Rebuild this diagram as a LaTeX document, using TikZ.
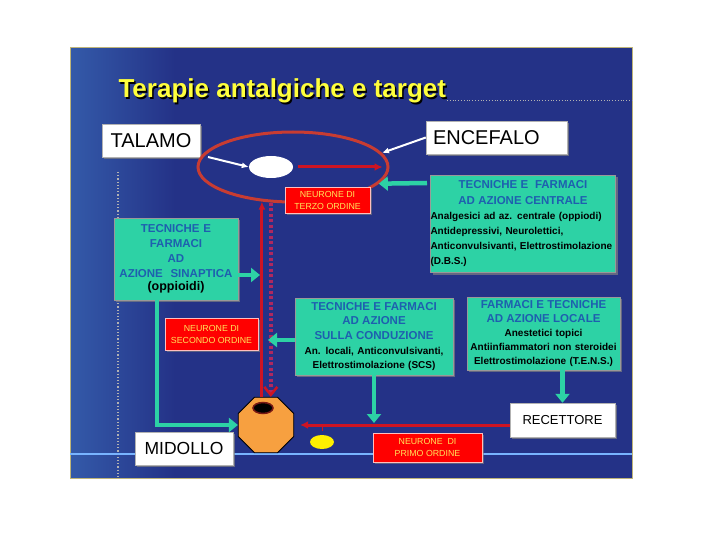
\documentclass[tikz,border=0pt]{standalone}
\usepackage{fontspec}
\setmainfont{Liberation Sans}
\usepackage{xcolor}
\usepackage{tikz}
\usetikzlibrary{arrows.meta, shapes.geometric, shadows}

\definecolor{slideblue}{RGB}{36,50,135}
\definecolor{streak}{RGB}{75,150,220}
\definecolor{tealfill}{RGB}{45,210,165}
\definecolor{headblue}{RGB}{30,95,175}
\definecolor{nervered}{RGB}{205,20,35}
\definecolor{ringred}{RGB}{200,60,50}
\definecolor{dotred}{RGB}{175,40,95}
\definecolor{pinkedge}{RGB}{255,190,190}
\definecolor{labelyellow}{RGB}{255,228,90}
\definecolor{titleyellow}{RGB}{255,255,60}
\definecolor{cellorange}{RGB}{247,160,64}
\definecolor{frametan}{RGB}{190,180,120}
\definecolor{lineblue}{RGB}{120,180,255}

\newcommand{\headtxt}[1]{{\color{headblue}\fontsize{11.5}{15}\selectfont #1}}

\begin{document}
\begin{tikzpicture}[x=1pt, y=-1pt, >=Latex, font=\bfseries]
	\tikzstyle{whitebox} = [fill=white, draw=black!30, minimum height=33, inner sep=0pt, drop shadow={shadow xshift=2pt, shadow yshift=-2pt, opacity=0.7}, font={\fontsize{20}{24}\selectfont\mdseries}]
	\tikzstyle{redbox} = [fill=red, draw=pinkedge, line width=0.6pt, inner sep=0pt, align=center, text=labelyellow, drop shadow={shadow xshift=1.5pt, shadow yshift=-1.5pt, opacity=0.6}, font={\fontsize{8.8}{12}\selectfont\mdseries}]
	\tikzstyle{tealbox} = [fill=tealfill, draw=black!40, inner sep=0pt, drop shadow={shadow xshift=2pt, shadow yshift=-2pt, opacity=0.7}, font={\fontsize{10}{14.5}\selectfont\bfseries}]
	\tikzstyle{tealarrow} = [draw=tealfill, line width=4.5pt, -{Triangle[length=9pt, width=14pt]}]
	\tikzstyle{redarrow} = [draw=nervered, line width=3pt, -{Latex[length=8pt, width=8pt]}]
	\tikzstyle{whitearrow} = [draw=white, line width=2pt, -{Latex[length=7pt, width=6pt]}]

	% slide background
	\useasboundingbox (0, 0) rectangle (720, 540);
	\fill[white] (0, 0) rectangle (720, 540);
	\fill[slideblue] (70, 48) rectangle (632, 478);
	\shade[left color=slideblue!60!streak, middle color=streak!85!slideblue, right color=slideblue] (70, 48) rectangle (175, 478);
	\draw[frametan, line width=1pt] (70, 48) rectangle (632, 478);
	\draw[gray!60, dotted, line width=1.2pt] (118, 172) -- (118, 478);
	\draw[lineblue, line width=1.2pt] (70, 454) -- (632, 454);
	\draw[gray!60, dotted, line width=0.8pt] (447, 100) -- (632, 100);

	% title
	\node[anchor=base west, text=black, font={\fontsize{26}{30}\selectfont\bfseries}]		at (116.5, 99.5)	(q16s)	{Terapie antalgiche e target};
	\node[anchor=base west, text=titleyellow, font={\fontsize{26}{30}\selectfont\bfseries}]	at (115, 98)		(q16)	{Terapie antalgiche e target};

	\node[whitebox, minimum width=98]						at (151, 140.5)		(q0)	{TALAMO};
	\node[whitebox, text width=127, inner sep=7pt, align=left, minimum height=33]	at (496.5, 137.5)	(q1)	{ENCEFALO};
	\node[ellipse, draw=ringred, line width=3pt, minimum width=190, minimum height=70, inner sep=0pt]	at (293, 167)	(q2)	{};
	\node[ellipse, fill=white, minimum width=44, minimum height=22, inner sep=0pt]	at (271, 167)		(q3)	{};
	\node[redbox, minimum width=85, minimum height=26]		at (327.5, 200.5)	(q4)	{NEURONE DI\\TERZO ORDINE};
	\node[tealbox, text width=185, minimum height=97, align=left, font={\fontsize{10}{15.2}\selectfont\bfseries}]	at (523, 224)	(q5)
		{\makebox[185pt]{\headtxt{TECNICHE E~~FARMACI}}\\
		 \makebox[185pt]{\headtxt{AD AZIONE CENTRALE}}\\
		 Analgesici ad az. centrale (oppiodi)\\
		 Antidepressivi, Neurolettici,\\
		 Anticonvulsivanti, Elettrostimolazione\\
		 (D.B.S.)};
	\node[tealbox, text width=124, minimum height=82, align=center, font={\fontsize{11.5}{15}\selectfont\bfseries}]	at (176, 259)	(q6)
		{\headtxt{TECNICHE E}\\ \headtxt{FARMACI}\\ \headtxt{AD}\\ \headtxt{AZIONE~~SINAPTICA}\\[-2pt]
		 {\fontsize{12.5}{13}\selectfont (oppioidi)}};
	\node[redbox, minimum width=93, minimum height=32]		at (211.5, 334)		(q7)	{NEURONE DI\\SECONDO ORDINE};
	\node[tealbox, text width=158, minimum height=77, align=center, font={\fontsize{10}{14.7}\selectfont\bfseries}]	at (374, 336.5)	(q8)
		{\headtxt{TECNICHE E FARMACI}\\ \headtxt{AD AZIONE}\\ \headtxt{SULLA CONDUZIONE}\\
		 An. locali, Anticonvulsivanti,\\ Elettrostimolazione (SCS)};
	\node[tealbox, text width=153, minimum height=73, align=center, font={\fontsize{10}{14}\selectfont\bfseries}]	at (543.5, 333.5)	(q9)
		{\headtxt{FARMACI E TECNICHE}\\ \headtxt{AD AZIONE LOCALE}\\
		 Anestetici topici\\ Antiinfiammatori non steroidei\\ Elettrostimolazione (T.E.N.S.)};
	\node[whitebox, minimum width=105, minimum height=34, font={\fontsize{13}{16}\selectfont\mdseries}]	at (562.5, 420)	(q10)	{RECETTORE};
	\node[regular polygon, regular polygon sides=8, minimum size=60, fill=cellorange, draw=black, line width=0.8pt, inner sep=0pt]	at (266, 425)	(q11)	{};
	\node[ellipse, fill=black, draw={rgb,255:red,120;green,25;blue,20}, line width=1.5pt, minimum width=20, minimum height=11, inner sep=0pt]	at (263, 408)	(q12)	{};
	\node[ellipse, fill={rgb,255:red,255;green,240;blue,0}, minimum width=24, minimum height=14, inner sep=0pt]	at (322, 442)	(q13)	{};
	\node[redbox, minimum width=109, minimum height=29]		at (427.5, 447.5)	(q14)	{NEURONE~~DI\\PRIMO ORDINE};
	\node[whitebox, minimum width=98, font={\fontsize{17.5}{21}\selectfont\mdseries}]	at (184, 448.5)	(q15)	{MIDOLLO};

	\coordinate (p0) at (208, 157);
	\coordinate (p1) at (427, 183);
	\coordinate (p2) at (260, 275);
	\coordinate (p5) at (268, 340);
	\coordinate (p7) at (157, 300);

	\path
	(p0)		edge[whitearrow]	(q3.west)
	(q1.west)	edge[whitearrow]	(q2.9);
	\draw[redarrow, shorten <=5pt, shorten >=7pt] (q3) -- (q2.east);
	\draw[redarrow, -{Latex[length=8pt, width=7pt]}] (q2.228 |- q11.north) -- (q2.228);
	\draw[dotred, line width=4pt, dash pattern=on 3pt off 2.5pt, -{Straight Barb[color=nervered, length=8pt, width=13pt, line width=2.5pt]}] (q2.238) -- (q2.238 |- q11.north);
	\draw[redarrow, shorten >=6pt] (q11.east -| q10.west) -- (q11.east);
	\draw[nervered, line width=1pt, shorten >=4pt] (q13.north |- q11.east) -- (q13.north);

	\path
	(p1)			edge[tealarrow]	(q2.-11)
	(q6.east |- p2)	edge[tealarrow]	(p2)
	(q8.west |- p5)	edge[tealarrow]	(p5)
	(q8.south)		edge[tealarrow, shorten >=2pt]	(q8.south |- q11.east)
	(q10.north |- q9.south)	edge[tealarrow]	(q10.north);
	\draw[tealarrow] (p7) |- (q11.west);
\end{tikzpicture}
\end{document}
